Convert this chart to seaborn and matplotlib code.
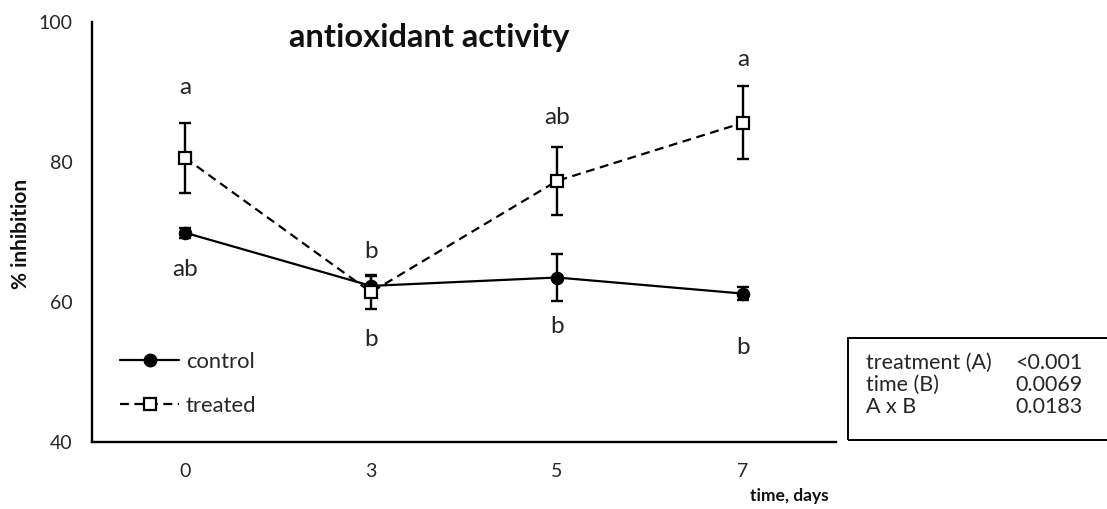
import matplotlib
matplotlib.use("Agg")
import matplotlib.pyplot as plt
import seaborn as sns
import numpy as np
import pandas as pd
from matplotlib.lines import Line2D
from matplotlib.patches import Rectangle

days = ["0", "3", "5", "7"]
control_mean = [69.9, 62.3, 63.5, 61.2]
control_err = [0.7, 1.4, 3.3, 0.9]
treated_mean = [80.6, 61.4, 77.3, 85.6]
treated_err = [5.0, 2.4, 4.9, 5.2]
control_letters = ["ab", "b", "b", "b"]
control_letter_y = [64.6, 54.6, 56.5, 53.5]
treated_letters = ["a", "b", "ab", "a"]
treated_letter_y = [90.7, 67.2, 86.4, 94.7]
stats_labels = ["treatment (A)", "time (B)", "A x B"]
stats_values = ["<0.001", "0.0069", "0.0183"]

sns.set_theme(style="white")
plt.rcParams['font.family'] = ['Lato', 'DejaVu Sans']

fig = plt.figure(figsize=(11.07, 5.09), dpi=100)
ax = fig.add_axes([92/1107, 1-442/509, (836-92)/1107, (442-22)/509])

pos = np.arange(len(days))
df_c = pd.DataFrame({"x": pos, "y": control_mean})
df_t = pd.DataFrame({"x": pos, "y": treated_mean})

ax.errorbar(pos, control_mean, yerr=control_err, fmt="none", ecolor="black",
            elinewidth=1.7, capsize=4, capthick=1.7, zorder=2)
ax.errorbar(pos, treated_mean, yerr=treated_err, fmt="none", ecolor="black",
            elinewidth=1.7, capsize=4, capthick=1.7, zorder=2)

sns.lineplot(data=df_c, x="x", y="y", ax=ax, color="black", lw=1.6,
             marker="o", markersize=9, markerfacecolor="black",
             markeredgecolor="black", zorder=3)
sns.lineplot(data=df_t, x="x", y="y", ax=ax, color="black", lw=1.6,
             linestyle=(0, (4, 2.5)), marker="s", markersize=8.5,
             markerfacecolor="white", markeredgecolor="black",
             markeredgewidth=1.6, zorder=4)

for i in range(len(days)):
    ax.text(pos[i], treated_letter_y[i], treated_letters[i], ha="center",
            va="center", fontsize=17.5, color="#262626")
    ax.text(pos[i], control_letter_y[i], control_letters[i], ha="center",
            va="center", fontsize=17.5, color="#262626")

ax.set_xlim(-0.5, 3.5)
ax.set_ylim(40, 100)
ax.set_xticks(pos)
ax.set_xticklabels(days)
ax.set_yticks([40, 60, 80, 100])
ax.tick_params(axis="x", length=0, labelsize=14, colors="#262626", pad=15)
ax.tick_params(axis="y", length=0, labelsize=14, colors="#262626", pad=14)
for s in ["top", "right"]:
    ax.spines[s].set_visible(False)
for s in ["left", "bottom"]:
    ax.spines[s].set_color("black")
    ax.spines[s].set_linewidth(1.7)

ax.set_xlabel("")
ax.set_ylabel("")
fig.text(21/1107, 1-234/509, "% inhibition", rotation=90, ha="center",
         va="center", fontsize=15, fontweight="bold", color="#111111")
fig.text(829/1107, 1-496/509, "time, days", ha="right", va="center",
         fontsize=12.5, fontweight="bold", color="#111111")
fig.text(429/1107, 1-38/509, "antioxidant activity", ha="center", va="center",
         fontsize=23.5, fontweight="bold", color="#111111")

handles = [
    Line2D([], [], color="black", lw=1.6, marker="o", markersize=9,
           markerfacecolor="black"),
    Line2D([], [], color="black", lw=1.6, linestyle=(0, (4, 2.5)), marker="s",
           markersize=8.5, markerfacecolor="white", markeredgewidth=1.6),
]
ax.legend(handles, ["control", "treated"], loc="upper left",
          bbox_to_anchor=((120-92)/744, (442-352)/420), frameon=False,
          fontsize=15.8, handlelength=2.7, handletextpad=0.3,
          labelspacing=1.1, borderpad=0, borderaxespad=0)

fig.patches.append(Rectangle((848/1107, 1-440/509), 300/1107, 102/509,
                             transform=fig.transFigure, fill=False,
                             edgecolor="black", lw=1.4))
for k, (lab, val) in enumerate(zip(stats_labels, stats_values)):
    y = 1 - (363 + 22*k)/509
    fig.text(866/1107, y, lab, ha="left", va="center", fontsize=15.5, color="#262626")
    fig.text(1015/1107, y, val, ha="left", va="center", fontsize=15.5, color="#262626")

fig.savefig("out.png", dpi=100)
